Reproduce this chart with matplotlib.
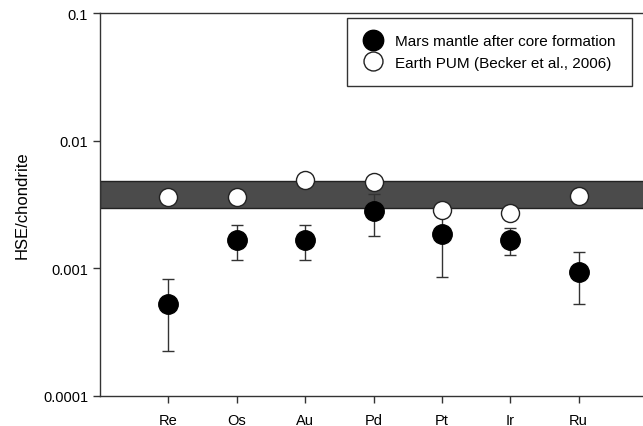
import matplotlib
matplotlib.use('Agg')
import matplotlib.pyplot as plt

plt.rcParams['font.family'] = ['Liberation Sans', 'DejaVu Sans']

# elements along the x axis
elements = ['Re', 'Os', 'Au', 'Pd', 'Pt', 'Ir', 'Ru']

# Mars mantle after core formation (value, upper and lower end of error bar)
mars = [0.00053, 0.00168, 0.00168, 0.0028, 0.00186, 0.00168, 0.00093]
mars_hi = [0.00082, 0.00219, 0.00219, 0.0038, 0.0026, 0.00207, 0.00134]
mars_lo = [0.000225, 0.00117, 0.00117, 0.0018, 0.00086, 0.00127, 0.00053]

# Earth PUM (Becker et al., 2006)
earth = [0.0036, 0.0036, 0.00495, 0.00472, 0.00288, 0.00272, 0.00367]

# grey band
band = [0.00298, 0.00487]

x = list(range(1, len(elements) + 1))
err_lo = [m - lo for m, lo in zip(mars, mars_lo)]
err_hi = [hi - m for m, hi in zip(mars, mars_hi)]

fig = plt.figure(figsize=(6.43, 4.27), dpi=100)
ax = fig.add_axes([100 / 643, 30 / 427, 547 / 643, 383 / 427])

ax.axhspan(band[0], band[1], facecolor='#4b4b4b', edgecolor='#222222', linewidth=1, zorder=1)

ax.errorbar(x, mars, yerr=[err_lo, err_hi], fmt='none', ecolor='#333333',
            elinewidth=1, capsize=4.5, capthick=1, zorder=2)
ax.plot(x, mars, 'o', color='black', markersize=14, linestyle='none', zorder=3,
        label='Mars mantle after core formation')
ax.plot(x, earth, 'o', markerfacecolor='white', markeredgecolor='#222222', markeredgewidth=1,
        markersize=13, linestyle='none', zorder=4, label='Earth PUM (Becker et al., 2006)')

ax.set_yscale('log')
ax.set_ylim(0.0001, 0.1)
ax.set_xlim(0, 8)
ax.set_yticks([0.0001, 0.001, 0.01, 0.1])
ax.set_yticklabels(['0.0001', '0.001', '0.01', '0.1'])
ax.minorticks_off()
ax.set_xticks(x)
ax.set_xticklabels(elements)
ax.tick_params(axis='both', labelsize=10.5, color='#333333', length=5, width=1)
ax.tick_params(axis='x', pad=7)
ax.set_ylabel('HSE/chondrite', fontsize=12, labelpad=10)

for s in ['left', 'bottom', 'top']:
    ax.spines[s].set_color('#333333')
    ax.spines[s].set_linewidth(1)
ax.spines['right'].set_visible(False)

leg = ax.legend(loc='upper right', bbox_to_anchor=(632 / 643, 1 - 19 / 427),
                bbox_transform=fig.transFigure, borderaxespad=0, fancybox=False,
                edgecolor='#333333', fontsize=11, framealpha=1, handletextpad=0.8,
                handlelength=1.3, borderpad=1.05, labelspacing=0.5, markerscale=1.05)
leg.get_frame().set_linewidth(1)

fig.savefig('out.png', dpi=100)
